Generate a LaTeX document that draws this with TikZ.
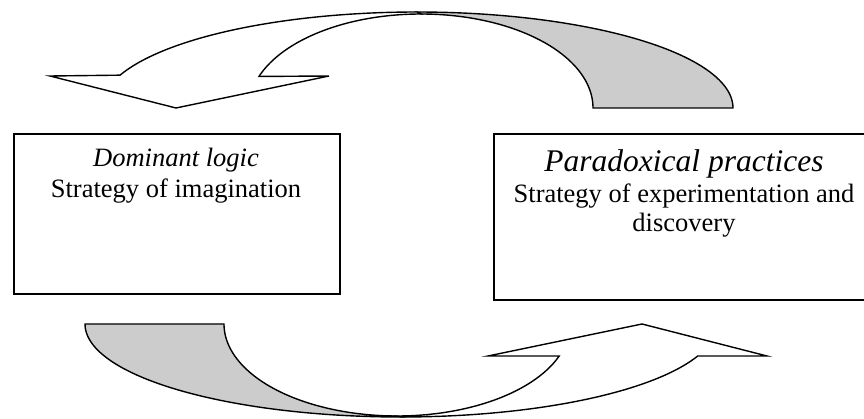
\documentclass[tikz,border=0pt]{standalone}
\usepackage{fontspec}
\setmainfont{Liberation Serif}
\begin{document}
\begin{tikzpicture}[x=1pt,y=-1pt,
  band/.style={draw=black, line width=1.4pt, line join=miter},
  backside/.style={band, fill=black!20},
  frontside/.style={band, fill=white},
  frame/.style={draw=black, line width=1.7pt, inner sep=0pt, anchor=north west},
  txt/.style={anchor=base, inner sep=0pt, font=\fontsize{26.5}{30.5}\selectfont},
  emph/.style={anchor=base, inner sep=0pt, font=\fontsize{26.5}{30.5}\selectfont\itshape},
  bigemph/.style={anchor=base, inner sep=0pt, font=\fontsize{31.5}{36}\selectfont\itshape}]
\clip (0,0) rectangle (864,419);

% upper curved arrow: shaded tail on the right, head pointing down on the left
\path[backside]
  plot[domain=90:0, samples=80] ({417+316*cos(\x)},{108-96*sin(\x)})
  -- (593,108)
  -- plot[domain=0:90, samples=80] ({421+172*cos(\x)},{108-94*sin(\x)})
  -- cycle;
\path[frontside]
  (50,76)
  -- plot[domain=160:90, samples=80] ({417+316*cos(\x)},{108-96*sin(\x)})
  -- plot[domain=90:160.4, samples=80] ({421+172*cos(\x)},{108-94*sin(\x)})
  -- (329,76) -- (176,108) -- cycle;

% lower curved arrow: shaded tail on the left, head pointing up on the right
\path[backside]
  plot[domain=180:90, samples=80] ({401+316*cos(\x)},{324+93*sin(\x)})
  -- plot[domain=90:180, samples=80] ({397+173*cos(\x)},{324+92*sin(\x)})
  -- cycle;
\path[frontside]
  (488,356)
  -- plot[domain=20.35:90, samples=80] ({397+173*cos(\x)},{324+92*sin(\x)})
  -- plot[domain=90:20.1, samples=80] ({401+316*cos(\x)},{324+93*sin(\x)})
  -- (767,356) -- (642,324) -- cycle;

% the two boxes
\node[frame, minimum width=326, minimum height=160] (imag) at (13,133) {};
\node[frame, minimum width=382, minimum height=166] (exper) at (493,133) {};

% box texts
\node[emph] (domlogic) at (176,167) {Dominant logic};
\node[txt] (imagination) at (176,198) {Strategy of imagination};
\node[bigemph] (paradox) at (684,172) {Paradoxical practices};
\node[txt] (experiment) at (684,203) {Strategy of experimentation and};
\node[txt] (discovery) at (684,232) {discovery};
\end{tikzpicture}
\end{document}
